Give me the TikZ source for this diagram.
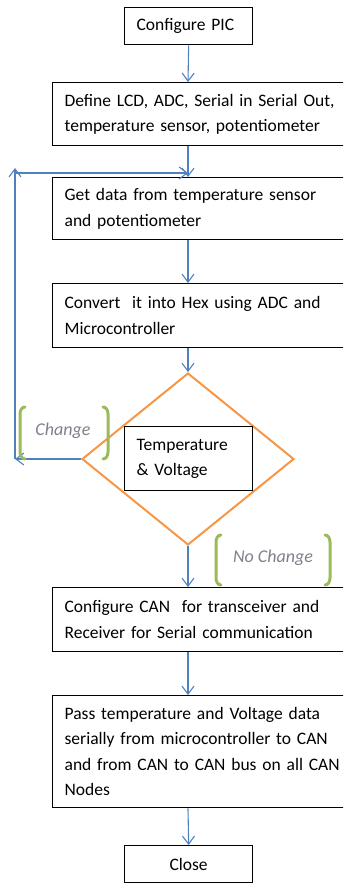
\documentclass[tikz,border=0pt]{standalone}
\usepackage{fontspec}
\setmainfont{Carlito}[WordSpace=0.6]
\newfontfamily\lblfont{Carlito}
\usetikzlibrary{arrows.meta,shapes.geometric}
\definecolor{arrowblue}{RGB}{79,129,189}
\definecolor{dorange}{RGB}{247,150,70}
\definecolor{bgreen}{RGB}{155,187,89}
\definecolor{lblgray}{RGB}{128,128,140}
\tikzset{
  x=1pt,y=1pt,
  txt/.style={font=\fontsize{17.5}{25.5}\selectfont},
  widebox/.style={txt,draw=black,line width=1.3pt,anchor=north west,
    text width=276pt,inner xsep=12pt,inner ysep=0pt,align=left,minimum width=300pt},
  smallbox/.style={txt,draw=black,line width=1.3pt,anchor=north west,
    text width=104pt,inner xsep=12pt,inner ysep=0pt,align=left,minimum width=128pt},
  arr/.style={draw=arrowblue,line width=1.1pt,-{Straight Barb[length=8pt,width=12pt]}},
  bracket/.style={draw=bgreen,line width=3pt,line cap=round},
  lbl/.style={font=\lblfont\fontsize{18}{20}\selectfont\itshape,text=lblgray}
}
\begin{document}
\begin{tikzpicture}
\useasboundingbox (0,0) rectangle (343,-883);
\clip (0,0) rectangle (343,-883);
\node[smallbox,minimum height=37pt] (pic) at (124,-7) {Configure PIC};
\node[widebox,minimum height=63pt] (define) at (52,-82) {Define LCD, ADC, Serial in Serial Out,\\temperature sensor, potentiometer};
\node[widebox,minimum height=62pt] (get) at (52,-177) {Get data from temperature sensor\\and potentiometer};
\node[widebox,minimum height=64pt] (conv) at (52,-283) {Convert\ \ it into Hex using ADC and\\Microcontroller};
\node[diamond,draw=dorange,line width=2pt,minimum width=212pt,minimum height=172pt,inner sep=0pt] (dec) at (188,-459) {};
\node[smallbox,minimum height=64pt] (tv) at (124,-426) {Temperature\\\& Voltage};
\node[widebox,minimum height=64pt] (can) at (52,-587) {Configure CAN\ \ for transceiver and\\Receiver for Serial communication};
\node[widebox,minimum height=112pt] (pass) at (52,-695) {Pass temperature and Voltage data\\serially from microcontroller to CAN\\and from CAN to CAN bus on all CAN\\Nodes};
\node[smallbox,minimum height=37pt,align=center] (close) at (124,-845) {Close};
\coordinate (x0) at (188,0);
\coordinate (join) at (188,-173);
\coordinate (loopL) at (15,-459);
\coordinate (loopT) at (15,-168);
\coordinate (loopH) at (15,-173);
\draw[arr] (pic.south) -- (x0 |- define.north);
\draw[arr] (x0 |- define.south) -- (x0 |- get.north);
\draw[arr] (x0 |- get.south) -- (x0 |- conv.north);
\draw[arr] (x0 |- conv.south) -- (dec.north);
\draw[arr] (dec.west) -- (loopL);
\draw[arr] (loopL) -- (loopT);
\draw[arr] (loopH) -- (join);
\draw[arr] (dec.south) -- (x0 |- can.north);
\draw[arr] (x0 |- can.south) -- (x0 |- pass.north);
\draw[arr] (x0 |- pass.south) -- (close.north);
% Change label
\draw[bracket] (25,-407) to[out=180,in=90] (20,-414) -- (20,-452) to[out=-90,in=180] (25,-459);
\draw[bracket] (103,-407) to[out=0,in=90] (108,-414) -- (108,-452) to[out=-90,in=0] (103,-459);
\node[lbl] (chg) at (63,-431) {Change};
% No Change label
\draw[bracket] (221,-535) to[out=180,in=90] (216,-542) -- (216,-578) to[out=-90,in=180] (221,-585);
\draw[bracket] (325,-535) to[out=0,in=90] (330,-542) -- (330,-578) to[out=-90,in=0] (325,-585);
\node[lbl] (nochg) at (273,-558) {No Change};
\end{tikzpicture}
\end{document}
